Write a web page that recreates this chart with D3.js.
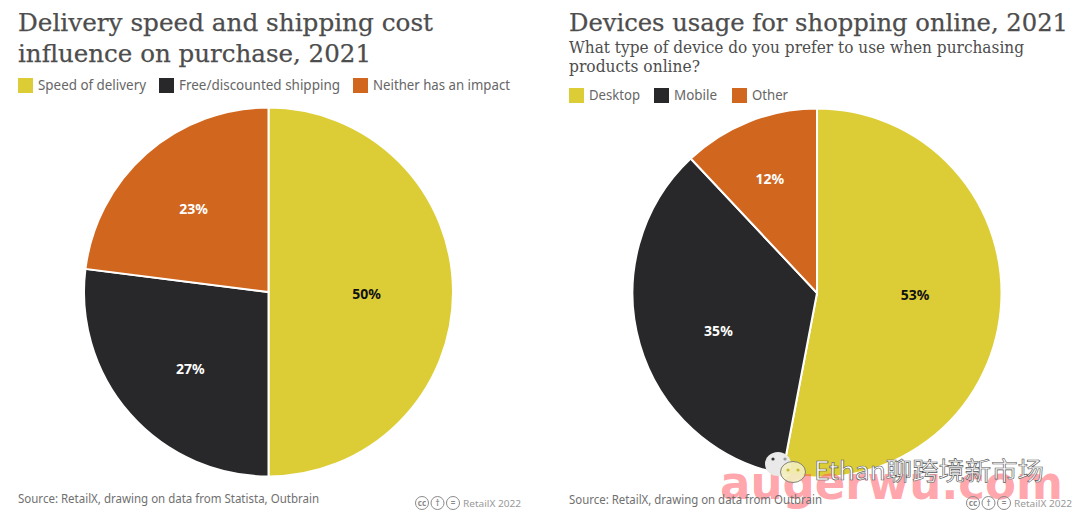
<!DOCTYPE html>
<meta charset="utf-8">
<style>

body {
  margin: 0;
  background: #fff;
}

svg {
  display: block;
}

.title {
  font: 24px "DejaVu Serif", serif;
  fill: #4d4d4d;
  stroke: #4d4d4d;
  stroke-width: .25;
}

.subtitle {
  font: 16.5px "DejaVu Serif", serif;
  fill: #4d4d4d;
}

.legend {
  font: 14.5px "Noto Sans", sans-serif;
  fill: #666;
}

.source {
  font: 12.5px "Noto Sans", sans-serif;
  fill: #707070;
}

.credit {
  font: 9.5px "Noto Sans", sans-serif;
  fill: #999;
}

.label {
  font: bold 14px "Noto Sans", sans-serif;
}

</style>
<body>
<script src="https://cdn.jsdelivr.net/npm/d3@7"></script>
<script>

var colors = ["#dccd36", "#28282a", "#d1671f"];
var labelColors = ["#111", "#fff", "#fff"];

var leftCategories = ["Speed of delivery", "Free/discounted shipping", "Neither has an impact"];
var leftValues = [50, 27, 23];
var leftTitle = ["Delivery speed and shipping cost", "influence on purchase, 2021"];
var leftSource = "Source: RetailX, drawing on data from Statista, Outbrain";

var rightCategories = ["Desktop", "Mobile", "Other"];
var rightValues = [53, 35, 12];
var rightTitle = ["Devices usage for shopping online, 2021"];
var rightSubtitle = ["What type of device do you prefer to use when purchasing", "products online?"];
var rightSource = "Source: RetailX, drawing on data from Outbrain";

var width = 1080,
    height = 519;

var svg = d3.select("body").append("svg")
    .attr("width", width)
    .attr("height", height);

function textLines(lines, cls, x, ys, widthFit) {
  lines.forEach(function(line, i) {
    svg.append("text")
        .attr("class", cls)
        .attr("x", x)
        .attr("y", ys[i])
        .attr("textLength", widthFit[i])
        .attr("lengthAdjust", "spacingAndGlyphs")
        .text(line);
  });
}

function legend(categories, x, y, lefts, fits) {
  categories.forEach(function(c, i) {
    svg.append("rect")
        .attr("x", x + lefts[i])
        .attr("y", y)
        .attr("width", 15)
        .attr("height", 15)
        .attr("fill", colors[i]);
    svg.append("text")
        .attr("class", "legend")
        .attr("x", x + lefts[i] + 20)
        .attr("y", y + 12)
        .attr("textLength", fits[i])
        .attr("lengthAdjust", "spacingAndGlyphs")
        .text(c);
  });
}

// smaller slices push their label further from the centre
var labelRadius = d3.scaleLinear()
    .domain([12, 25, 50])
    .range([124, 110.5, 98])
    .clamp(true);

function pieChart(values, cx, cy, r, labelTurn) {
  var g = svg.append("g")
      .attr("transform", "translate(" + cx + "," + cy + ")");

  var pie = d3.pie().sort(null);
  var arc = d3.arc().innerRadius(0).outerRadius(r);

  var slices = g.selectAll("g")
      .data(pie(values))
      .enter().append("g");

  slices.append("path")
      .attr("d", arc)
      .attr("fill", function(d, i) {return colors[i];})
      .attr("stroke", "#fff")
      .attr("stroke-width", 2);

  slices.append("text")
      .attr("class", "label")
      .attr("transform", function(d, i) {
        var a = (d.startAngle + d.endAngle) / 2 + labelTurn[i] * Math.PI / 180;
        var lr = labelRadius(d.value);
        return "translate(" + (lr * Math.sin(a)) + "," + (-lr * Math.cos(a)) + ")";
      })
      .attr("text-anchor", "middle")
      .attr("dy", ".4em")
      .attr("fill", function(d, i) {return labelColors[i];})
      .text(function(d) {return d.value + "%";});
}

// little cc / by / nd circles next to the credit
function credit(x, y) {
  ["cc", "\u2020", "="].forEach(function(s, i) {
    svg.append("circle")
        .attr("cx", x + i * 15.5)
        .attr("cy", y)
        .attr("r", 6.5)
        .attr("fill", "none")
        .attr("stroke", "#8a8a8a")
        .attr("stroke-width", 1);
    svg.append("text")
        .attr("x", x + i * 15.5)
        .attr("y", y + 3)
        .attr("text-anchor", "middle")
        .attr("font-family", "Noto Sans")
        .attr("font-size", 8)
        .attr("font-weight", "bold")
        .attr("fill", "#8a8a8a")
        .text(s);
  });
  svg.append("text")
      .attr("class", "credit")
      .attr("x", x + 41)
      .attr("y", y + 3.5)
      .attr("textLength", 58)
      .attr("lengthAdjust", "spacingAndGlyphs")
      .text("RetailX 2022");
}

textLines(leftTitle, "title", 18, [30.5, 61.5], [415, 353]);
legend(leftCategories, 18, 78, [0, 141, 335], [108, 161, 137]);
pieChart(leftValues, 268.5, 292, 184.5, [1, -3, -0.3]);

textLines(rightTitle, "title", 569, [30.5], [499]);
textLines(rightSubtitle, "subtitle", 569, [53, 72], [455, 131]);
legend(rightCategories, 569, 88, [0, 85, 163], [51, 43, 36]);
pieChart(rightValues, 817, 293, 184.5, [-4.8, -4.7, -0.8]);

// watermark sitting over the bottom right of the picture, under the source lines
svg.append("text")
    .attr("x", 720)
    .attr("y", 499)
    .attr("font-family", "DejaVu Sans")
    .attr("font-weight", "bold")
    .attr("font-size", 46)
    .attr("fill", "#ff5a66")
    .attr("fill-opacity", 0.55)
    .attr("textLength", 343)
    .attr("lengthAdjust", "spacingAndGlyphs")
    .text("augerwu.com");

// chat bubbles of the second watermark
svg.append("ellipse")
    .attr("cx", 778).attr("cy", 464).attr("rx", 13).attr("ry", 12)
    .attr("fill", "#e9e9e9");
svg.append("ellipse")
    .attr("cx", 793).attr("cy", 472).attr("rx", 12.5).attr("ry", 10.5)
    .attr("fill", "#f3eec0")
    .attr("fill-opacity", 0.9)
    .attr("stroke", "#666")
    .attr("stroke-width", 0.8);
[[773, 459, "#333"], [785, 459, "#999"], [788, 470, "#c9b93a"], [798, 470, "#c9b93a"]].forEach(function(e) {
  svg.append("circle")
      .attr("cx", e[0]).attr("cy", e[1]).attr("r", 1.6)
      .attr("fill", e[2]);
});

svg.append("text")
    .attr("x", 814)
    .attr("y", 480)
    .attr("font-family", "Noto Sans CJK SC")
    .attr("font-size", 25)
    .attr("fill", "#fff")
    .attr("stroke", "#555")
    .attr("stroke-width", 0.6)
    .attr("textLength", 230)
    .attr("lengthAdjust", "spacingAndGlyphs")
    .text("Ethan聊跨境新市场");

textLines([leftSource], "source", 18, [503], [301]);
credit(422, 503);
textLines([rightSource], "source", 569, [504], [253]);
credit(973, 503);

</script>
